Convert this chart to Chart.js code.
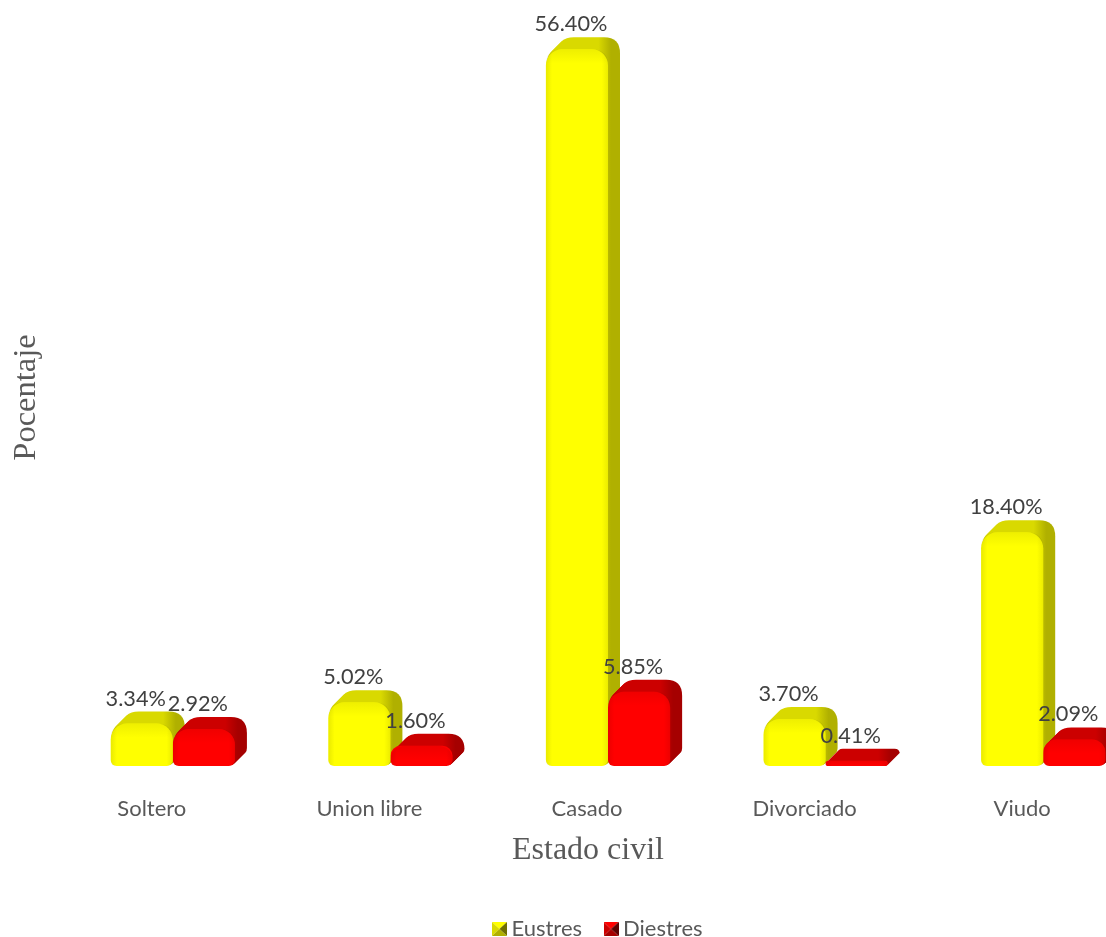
<!DOCTYPE html>
<html><head><meta charset="utf-8">
<style>html,body{margin:0;padding:0;background:#fff;overflow:hidden;width:1106px;height:937px}canvas{display:block}</style>
<script src="https://cdn.jsdelivr.net/npm/chart.js@4"></script>
</head><body>
<canvas id="c" width="1201" height="950" style="width:1201px;height:950px"></canvas>
<script>
const categories = ['Soltero','Union libre','Casado','Divorciado','Viudo'];
const eustres = [3.34,5.02,56.40,3.70,18.40];
const diestres = [2.92,1.60,5.85,0.41,2.09];
const seriesNames = ['Eustres','Diestres'];
const xTitle = 'Estado civil';
const yTitle = 'Pocentaje';

const DEPTH = 12, RT = 16, RB = 6;
const sans = 'Lato, "Open Sans", sans-serif';
const palettes = [
  {front:'#ffff00', top:'#d9d900', side:'#b0b000', dark:'120,120,0', deep:'#6f6f00'},
  {front:'#ff0000', top:'#cc0000', side:'#a50000', dark:'130,0,0', deep:'#5c0000'}
];
function barPath(ctx,l,t,w,h,dx,dy){
  const rt=Math.min(RT,h,w/2), rb=Math.min(RB,h/2,w/2);
  const x=l+dx, y=t+dy, b=y+h, r=x+w;
  ctx.beginPath();
  ctx.moveTo(x,b-rb);
  ctx.lineTo(x,y+rt);
  ctx.quadraticCurveTo(x,y,x+rt,y);
  ctx.lineTo(r-rt,y);
  ctx.quadraticCurveTo(r,y,r,y+rt);
  ctx.lineTo(r,b-rb);
  ctx.quadraticCurveTo(r,b,r-rb,b);
  ctx.lineTo(x+rb,b);
  ctx.quadraticCurveTo(x,b,x,b-rb);
  ctx.closePath();
}
function marker(p){
  const c=document.createElement('canvas');c.width=15;c.height=14;
  const g=c.getContext('2d');
  const tri=(col,pts)=>{g.fillStyle=col;g.beginPath();pts.forEach((q,i)=>i?g.lineTo(q[0],q[1]):g.moveTo(q[0],q[1]));g.closePath();g.fill();};
  const m=[7.5,7];
  tri(p.front,[[0,0],[15,0],m]);
  tri(p.top,[[0,0],[0,14],m]);
  tri(p.deep,[[15,0],[15,14],m]);
  tri(p.side,[[0,14],[15,14],m]);
  return c;
}
const bars3d = {
  id:'bars3d',
  beforeDatasetsDraw(chart){
    const ctx=chart.ctx;
    [0,1].forEach(di=>{
      const p=palettes[di];
      chart.getDatasetMeta(di).data.forEach(el=>{
        const b=el.getProps(['x','y','base','width'],true);
        const l=b.x-b.width/2, w=b.width, h=b.base-b.y, r=l+w;
        const g=ctx.createLinearGradient(r-RT*0.6,0,r+3,0);
        g.addColorStop(0,p.top);g.addColorStop(1,p.side);
        ctx.save();ctx.fillStyle=g;
        for(let t=DEPTH;t>=1;t--){barPath(ctx,l,b.y,w,h,t,-t);ctx.fill();}
        ctx.restore();
      });
    });
  },
  afterDatasetsDraw(chart){
    const ctx=chart.ctx;
    [0,1].forEach(di=>{
      const p=palettes[di];
      chart.getDatasetMeta(di).data.forEach(el=>{
        const b=el.getProps(['x','y','base','width'],true);
        const l=b.x-b.width/2, w=b.width, h=b.base-b.y;
        ctx.save();
        barPath(ctx,l,b.y,w,h,0,0);ctx.clip();
        let g=ctx.createLinearGradient(l,0,l+w,0);
        g.addColorStop(0,`rgba(${p.dark},.16)`);g.addColorStop(.1,`rgba(${p.dark},0)`);
        g.addColorStop(.9,`rgba(${p.dark},0)`);g.addColorStop(1,`rgba(${p.dark},.14)`);
        ctx.fillStyle=g;ctx.fillRect(l,b.y,w,h);
        g=ctx.createLinearGradient(0,b.y,0,b.y+Math.min(14,h));
        g.addColorStop(0,`rgba(${p.dark},.12)`);g.addColorStop(1,`rgba(${p.dark},0)`);
        ctx.fillStyle=g;ctx.fillRect(l,b.y,w,h);
        ctx.restore();
      });
    });
    // value labels
    ctx.save();
    ctx.font='21.7px '+sans;ctx.fillStyle='#404040';ctx.textAlign='center';ctx.textBaseline='middle';
    [eustres,diestres].forEach((vals,di)=>{
      chart.getDatasetMeta(di).data.forEach((el,i)=>{
        const b=el.getProps(['x','y'],true);
        ctx.fillText(vals[i].toFixed(2)+'%',b.x-6,b.y-DEPTH-13);
      });
    });
    // x axis title, centred under the category labels
    const xs=chart.scales.x;
    ctx.font='32px "Liberation Serif", serif';ctx.fillStyle='#595959';
    ctx.fillText(xTitle,(xs.left+xs.right)/2-20,851);
    ctx.restore();
  }
};
new Chart(document.getElementById('c'),{
  type:'bar',
  data:{labels:categories,datasets:[
    {label:seriesNames[0],data:eustres,backgroundColor:palettes[0].front},
    {label:seriesNames[1],data:diestres,backgroundColor:palettes[1].front}
  ]},
  options:{
    responsive:false,animation:false,
    layout:{padding:{top:29,right:0,left:0,bottom:0}},
    categoryPercentage:0.571,barPercentage:1,
    elements:{bar:{borderSkipped:false,borderWidth:0,
      borderRadius:{topLeft:RT,topRight:RT,bottomLeft:RB,bottomRight:RB}}},
    scales:{
      x:{grid:{display:false},border:{display:false},
        ticks:{color:'#595959',font:{family:sans,size:22},padding:22,labelOffset:-21,maxRotation:0,autoSkip:false},
        afterFit(s){s.height=124;}},
      y:{min:0,max:58,grid:{display:false},border:{display:false},
        ticks:{display:false},
        title:{display:true,text:yTitle,color:'#595959',font:{family:'"Liberation Serif", serif',size:32.5},padding:{top:7,bottom:0}},
        afterFit(s){s.width=64;}},
      yRight:{type:'linear',position:'right',grid:{display:false},border:{display:false},ticks:{display:false},
        afterFit(s){s.width=49;}}
    },
    plugins:{
      tooltip:{enabled:false},
      legend:{position:'bottom',
        labels:{usePointStyle:true,pointStyleWidth:2,boxHeight:14,color:'#595959',font:{family:sans,size:22},padding:28,
          generateLabels(){return seriesNames.map((n,i)=>({text:n,fontColor:'#595959',pointStyle:marker(palettes[i]),datasetIndex:i,lineWidth:0}));}}}
    }
  },
  plugins:[bars3d]
});
</script>
</body></html>
